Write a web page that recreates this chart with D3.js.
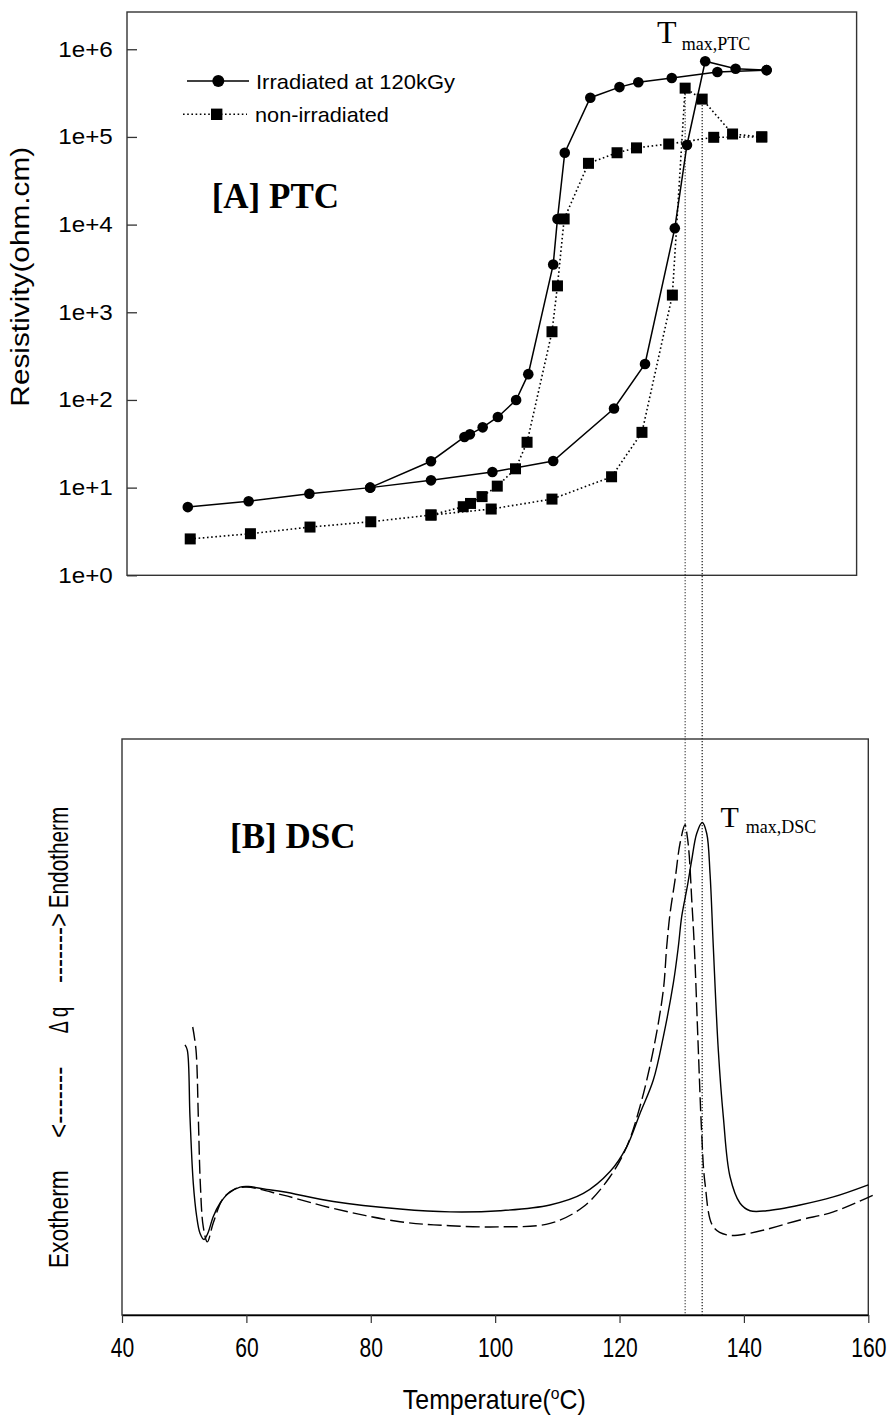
<!DOCTYPE html>
<html>
<head>
<meta charset="utf-8">
<script src="https://cdn.jsdelivr.net/npm/d3@7"></script>
<style>
  body { margin: 0; background: #fff; }
  svg { display: block; }
</style>
</head>
<body>
<script>
const m = {
  width: 893,
  height: 1421
}

// [A] PTC, irradiated at 120 kGy (circles): heating run, then cooling run (deg C, ohm.cm)
const irrHeatT = [50, 60, 70, 80, 90, 100.1, 110.1, 120.1, 125.2, 130.1, 132.1, 135.1, 140.1, 145.2]
const irrHeatR = [6.0, 7.0, 8.5, 10, 12.1, 15.1, 20.1, 80, 257, 9100, 80900, 730000, 600000, 578000]
const irrCoolT = [145.2, 137.1, 129.6, 124.1, 121.0, 116.2, 112.0, 110.8, 110.1, 106.0, 104.0, 101.0, 98.5, 96.4, 95.5, 90, 80]
const irrCoolR = [578000, 550000, 470000, 420000, 370000, 280000, 66000, 11600, 3500, 197, 100, 64, 48.7, 40.5, 37.8, 20, 10]

// non-irradiated (squares)
const nonHeatT = [50.4, 60.3, 70.1, 80.1, 90, 99.9, 109.9, 119.7, 124.7, 129.7, 131.8, 134.6, 139.6, 144.4]
const nonHeatR = [2.6, 2.98, 3.55, 4.08, 4.87, 5.7, 7.4, 13.3, 42.7, 1570, 360000, 270000, 108000, 100000]
const nonCoolT = [144.4, 136.5, 129.1, 123.8, 120.6, 115.9, 111.9, 110.8, 109.9, 105.8, 103.9, 100.9, 98.4, 96.5, 95.3, 90]
const nonCoolR = [100000, 99000, 83000, 75000, 66000, 50000, 11600, 2000, 600, 32.9, 16.4, 10.4, 7.9, 6.6, 6.06, 4.87]

// Tmax,PTC markers carried down to the DSC peaks
const tmaxT = [131.8, 134.6]
const tmaxR = [360000, 270000]

const yTicks = [1, 10, 100, 1e3, 1e4, 1e5, 1e6]
const yTickLabels = ["1e+0", "1e+1", "1e+2", "1e+3", "1e+4", "1e+5", "1e+6"]

// [B] DSC heat flow, arbitrary units (solid = irradiated, dashed = non-irradiated)
const dscIrrT = [50.13, 50.5, 50.93, 51.46, 52.01, 52.54, 53.19, 53.8, 54.68, 55.76, 57.09, 58.97, 60.31, 63.27, 65.94, 73.98, 84.7, 92.74, 100.78, 108.82, 114.18, 118.47, 121.15, 123.29, 125.43, 127.04, 128.65, 129.45, 130.0, 130.9, 131.61, 132.41, 133.31, 134.02, 134.55, 135.08, 135.88, 136.69, 137.77, 139.38, 140.98, 143.67, 149.02, 154.38, 160.0]
const dscIrrQ = [46.9, 46.0, 34.4, 22.9, 17.1, 14.2, 13.1, 14.2, 17.1, 19.4, 21.1, 22.2, 22.3, 21.8, 21.4, 19.7, 18.4, 17.9, 18.1, 19.1, 21.1, 24.9, 29.2, 35.0, 40.8, 48.3, 57.6, 63.9, 69.2, 74.4, 79.0, 83.6, 85.5, 83.6, 76.7, 63.9, 46.0, 34.4, 24.0, 19.4, 18.1, 18.1, 19.1, 20.5, 22.6]
const dscNonT = [51.37, 51.9, 52.27, 52.59, 53.07, 53.72, 54.68, 56.29, 58.17, 60.05, 65.94, 73.98, 84.7, 92.74, 100.78, 108.82, 114.18, 118.47, 121.15, 123.29, 125.43, 127.04, 127.58, 128.12, 128.92, 129.73, 130.53, 130.9, 131.22, 131.61, 132.03, 132.67, 133.21, 133.74, 135.08, 137.23, 140.98, 149.02, 154.38, 161.35]
const dscNonQ = [50.0, 46.0, 34.4, 22.9, 15.3, 12.7, 16.0, 20.3, 21.9, 22.2, 20.8, 18.5, 16.2, 15.5, 15.3, 15.9, 18.8, 24.0, 29.2, 36.2, 46.0, 56.4, 63.9, 69.7, 75.5, 81.9, 85.1, 83.0, 79.6, 72.1, 63.9, 46.0, 31.6, 22.9, 15.3, 13.9, 14.2, 16.5, 17.9, 21.1]

const xTicks = [40, 60, 80, 100, 120, 140, 160]

const sans = "Arial, 'Liberation Sans', sans-serif"
const serif = "'Times New Roman', 'Liberation Serif', serif"
const dotted = "1.6,2.6"

let svg = d3.select("body")
  .append("svg")
  .attr("width", m.width)
  .attr("height", m.height);

// stretch / squeeze a label along its baseline to the length it has in the figure
function fit(t, x, y, len, rot) {
  let w = t.node().getComputedTextLength()
  t.attr("transform", `translate(${x},${y})` + (rot ? ` rotate(${rot})` : "") + ` scale(${len / w},1)`)
}

// ---------- [A] PTC ----------
let xTop = d3.scaleLinear().domain([40, 160]).range([127, 856.6])
let yTop = d3.scaleLog().domain([1, 2.66e6]).range([575.3, 12])

let xBot = d3.scaleLinear().domain([40, 160]).range([122, 868.3])
let yBot = d3.scaleLinear().domain([0, 100]).range([1315, 739])

let ptc = svg.append("g")

ptc.append("rect")
  .attr("x", xTop.range()[0])
  .attr("y", yTop.range()[1])
  .attr("width", xTop.range()[1] - xTop.range()[0])
  .attr("height", yTop.range()[0] - yTop.range()[1])
  .attr("fill", "none")
  .attr("stroke", "#333")
  .attr("stroke-width", 1.4)

let yAxis = ptc.append("g")
  .attr("transform", `translate(${xTop.range()[0]},0)`)
  .call(d3.axisLeft(yTop)
    .tickValues(yTicks)
    .tickFormat((d, i) => yTickLabels[i])
    .tickSizeInner(-10)
    .tickSizeOuter(0)
    .tickPadding(13))
yAxis.select(".domain").remove()
yAxis.selectAll("line").attr("stroke", "#333").attr("stroke-width", 1.3)
yAxis.selectAll("text")
  .attr("font-family", sans)
  .attr("font-size", 22)
  .attr("fill", "#000")
  .attr("transform", "scale(1.1,1)")

// vertical Tmax guides, from the PTC peaks down to the DSC axis
let guides = svg.append("g")
tmaxT.forEach((t, i) => {
  guides.append("line")
    .attr("x1", xTop(t)).attr("x2", xTop(t))
    .attr("y1", yTop(tmaxR[i])).attr("y2", yBot(0))
    .attr("stroke", "#000")
    .attr("stroke-width", 1.1)
    .attr("stroke-dasharray", "1.2,1.8")
})

let ptcLine = d3.line().x(d => xTop(d[0])).y(d => yTop(d[1]))

const runs = [
  { t: irrHeatT, r: irrHeatR, dash: null },
  { t: irrCoolT, r: irrCoolR, dash: null },
  { t: nonHeatT, r: nonHeatR, dash: dotted },
  { t: nonCoolT, r: nonCoolR, dash: dotted }
]
runs.forEach(s => {
  ptc.append("path")
    .attr("d", ptcLine(d3.zip(s.t, s.r)))
    .attr("fill", "none")
    .attr("stroke", "#000")
    .attr("stroke-width", s.dash ? 1.6 : 1.5)
    .attr("stroke-dasharray", s.dash)
})

let circles = d3.zip(irrHeatT, irrHeatR).concat(d3.zip(irrCoolT, irrCoolR))
ptc.append("g").selectAll("circle")
  .data(circles)
  .enter()
  .append("circle")
  .attr("cx", d => xTop(d[0]))
  .attr("cy", d => yTop(d[1]))
  .attr("r", 5.3)
  .attr("fill", "#000")

let squares = d3.zip(nonHeatT, nonHeatR).concat(d3.zip(nonCoolT, nonCoolR))
ptc.append("g").selectAll("rect")
  .data(squares)
  .enter()
  .append("rect")
  .attr("x", d => xTop(d[0]) - 5.5)
  .attr("y", d => yTop(d[1]) - 5.5)
  .attr("width", 11)
  .attr("height", 11)
  .attr("fill", "#000")

// legend
let leg = ptc.append("g")
leg.append("line").attr("x1", 187).attr("x2", 249).attr("y1", 81).attr("y2", 81)
  .attr("stroke", "#000").attr("stroke-width", 1.5)
leg.append("circle").attr("cx", 218.3).attr("cy", 81).attr("r", 6).attr("fill", "#000")
leg.append("line").attr("x1", 183).attr("x2", 247).attr("y1", 114.3).attr("y2", 114.3)
  .attr("stroke", "#000").attr("stroke-width", 1.6).attr("stroke-dasharray", dotted)
leg.append("rect").attr("x", 211).attr("y", 108.6).attr("width", 11.4).attr("height", 11.4).attr("fill", "#000")
let l1 = leg.append("text").text("Irradiated at 120kGy")
  .attr("font-family", sans).attr("font-size", 20)
fit(l1, 256, 88.5, 199)
let l2 = leg.append("text").text("non-irradiated")
  .attr("font-family", sans).attr("font-size", 20)
fit(l2, 255, 121.5, 134)

ptc.append("text").text("[A] PTC")
  .attr("x", 211.7).attr("y", 208.3)
  .attr("font-family", serif).attr("font-weight", "bold").attr("font-size", 35)

let tp = ptc.append("text").attr("font-family", serif)
tp.append("tspan").text("T").attr("x", 657).attr("y", 42.7).attr("font-size", 32)
tp.append("tspan").text("max,PTC").attr("x", 681.7).attr("y", 50).attr("font-size", 18)

let yTitle = ptc.append("text").text("Resistivity(ohm.cm)")
  .attr("font-family", sans).attr("font-size", 26.5).attr("text-anchor", "middle")
fit(yTitle, 29.4, 276.7, 260, -90)

// ---------- [B] DSC ----------
let dsc = svg.append("g")

dsc.append("rect")
  .attr("x", xBot.range()[0])
  .attr("y", yBot.range()[1])
  .attr("width", xBot.range()[1] - xBot.range()[0])
  .attr("height", yBot.range()[0] - yBot.range()[1])
  .attr("fill", "none")
  .attr("stroke", "#333")
  .attr("stroke-width", 1.4)

let xAxis = dsc.append("g")
  .attr("transform", `translate(0,${yBot.range()[0]})`)
  .call(d3.axisBottom(xBot)
    .tickValues(xTicks)
    .tickSizeInner(8)
    .tickSizeOuter(0)
    .tickPadding(15))
xAxis.select(".domain").attr("stroke", "#000").attr("stroke-width", 1.6)
xAxis.selectAll("line").attr("stroke", "#333").attr("stroke-width", 1.2)
xAxis.selectAll("text")
  .attr("font-family", sans)
  .attr("font-size", 27)
  .attr("fill", "#000")
  .attr("transform", "scale(0.78,1)")

let dscLine = d3.line()
  .curve(d3.curveCatmullRom.alpha(0.5))
  .x(d => xBot(d[0]))
  .y(d => yBot(d[1]))

dsc.append("path")
  .attr("d", dscLine(d3.zip(dscIrrT, dscIrrQ)))
  .attr("fill", "none")
  .attr("stroke", "#000")
  .attr("stroke-width", 1.4)

dsc.append("path")
  .attr("d", dscLine(d3.zip(dscNonT, dscNonQ)))
  .attr("fill", "none")
  .attr("stroke", "#000")
  .attr("stroke-width", 1.4)
  .attr("stroke-dasharray", "14,5")

dsc.append("text").text("[B] DSC")
  .attr("x", 230).attr("y", 848)
  .attr("font-family", serif).attr("font-weight", "bold").attr("font-size", 35)

let td = dsc.append("text").attr("font-family", serif)
td.append("tspan").text("T").attr("x", 720.5).attr("y", 826.7).attr("font-size", 30)
td.append("tspan").text("max,DSC").attr("x", 745.7).attr("y", 833.3).attr("font-size", 18)

// x title with superscript degree
let xTitle = dsc.append("text")
  .attr("font-family", sans).attr("font-size", 27).attr("text-anchor", "middle")
xTitle.append("tspan").text("Temperature(")
xTitle.append("tspan").text("o").attr("font-size", 17).attr("dy", -10)
xTitle.append("tspan").text("C)").attr("dy", 10)
fit(xTitle, 494.3, 1409, 183)

// y title, pieces placed where they sit in the figure
const yParts = ["Exotherm", "<-------", "\u0394 q", "------->", "Endotherm"]
const yPartC = [1219.2, 1102.3, 1020, 948, 857.5]
const yPartL = [98.3, 71.3, 26.3, 70, 101.6]
yParts.forEach((p, i) => {
  let t = dsc.append("text").text(p)
    .attr("font-family", sans).attr("font-size", 28).attr("text-anchor", "middle")
  fit(t, 68, yPartC[i], yPartL[i], -90)
})
</script>
</body>
</html>
